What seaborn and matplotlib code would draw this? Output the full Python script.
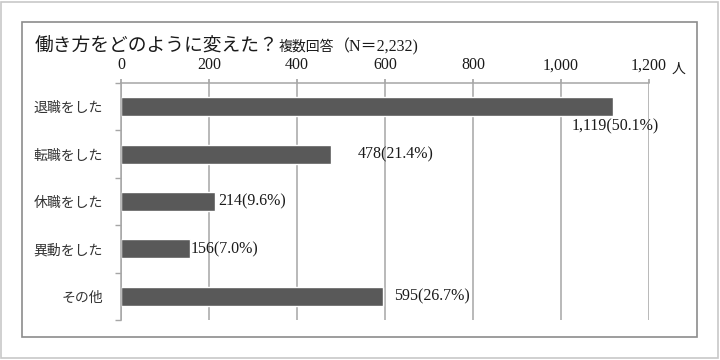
import matplotlib
matplotlib.use("Agg")
import matplotlib.pyplot as plt
import seaborn as sns
import pandas as pd
from matplotlib.patches import Rectangle
from matplotlib.ticker import FuncFormatter, FixedLocator

# chart data
categories = ["退職をした", "転職をした", "休職をした", "異動をした", "その他"]
counts = [1119, 478, 214, 156, 595]
percents = [50.1, 21.4, 9.6, 7.0, 26.7]
x_ticks = [0, 200, 400, 600, 800, 1000, 1200]
title_main = "働き方をどのように変えた？"
title_sub = "複数回答"
title_n = "（N＝2,232)"
unit = "人"

SERIF = ["Liberation Serif", "Noto Sans CJK JP"]
JP = ["Noto Sans CJK JP", "DejaVu Sans"]
BAR = "#595959"
GRID = "#a6a6a6"
INK = "#1a1a1a"

sns.set_theme(style="white")
plt.rcParams["font.family"] = SERIF

df = pd.DataFrame({"category": categories, "count": counts})

fig = plt.figure(figsize=(7.2, 3.6), dpi=100)
fig.patch.set_facecolor("white")

# frames around the picture
fig.patches.append(Rectangle((1 / 720, 2 / 360), 717 / 720, 356 / 360, transform=fig.transFigure,
                             fill=False, edgecolor="#c8c8c8", lw=1.2))
fig.patches.append(Rectangle((22 / 720, 23 / 360), 675 / 720, 315 / 360, transform=fig.transFigure,
                             fill=False, edgecolor="#8c8c8c", lw=1.2))

ax = fig.add_axes([121 / 720, 40 / 360, 528 / 720, 237 / 360])
sns.barplot(data=df, x="count", y="category", orient="h", color=BAR,
            saturation=1, width=0.4, ax=ax)

ax.set_xlim(0, 1200)
ax.set_ylim(4.5, -0.5)
ax.set_xlabel("")
ax.set_ylabel("")

ax.xaxis.tick_top()
ax.xaxis.set_major_locator(FixedLocator(x_ticks))
ax.xaxis.set_major_formatter(FuncFormatter(lambda v, p: f"{int(v):,}"))
ax.tick_params(axis="x", top=True, length=3, color=GRID, pad=4, labelsize=11.5, labelcolor=INK)
ax.grid(axis="x", color=GRID, lw=1.1)
ax.set_axisbelow(True)

ax.yaxis.set_minor_locator(FixedLocator([-0.5, 0.5, 1.5, 2.5, 3.5, 4.5]))
ax.tick_params(axis="y", which="major", length=0, pad=13)
ax.tick_params(axis="y", which="minor", left=True, length=4, color=GRID)
for lab in ax.get_yticklabels():
    lab.set_fontfamily(JP)
    lab.set_fontsize(10)
    lab.set_color("#333333")

for side in ["right", "bottom"]:
    ax.spines[side].set_visible(False)
for side in ["top", "left"]:
    ax.spines[side].set_color(GRID)
    ax.spines[side].set_linewidth(1.1)

# value labels
label_offsets = [(1.5, -14, "center"), (19, 0, "left"), (2, 0, "left"), (1, 0, "left"), (8, 0, "left")]
for i, (c, p) in enumerate(zip(counts, percents)):
    dx, dy, ha = label_offsets[i]
    ax.annotate(f"{c:,}({p:.1f}%)", xy=(c, i), xytext=(dx, dy), textcoords="offset points",
                ha=ha, va="center", fontsize=11.5, color=INK)

ax.annotate(unit, xy=(1200, 1), xycoords=("data", "axes fraction"), xytext=(16, 10),
            textcoords="offset points", ha="left", va="center", fontsize=10, family=JP,
            color=INK)

# title in three pieces sharing one baseline
base_y = 1 - 51 / 360
fig.canvas.draw()
renderer = fig.canvas.get_renderer()
x = 35 / 720
for txt, fam, size in [(title_main, JP, 13.5), (title_sub, JP, 10), (title_n, SERIF, 11.5)]:
    t = fig.text(x, base_y, txt, family=fam, fontsize=size, ha="left", va="baseline", color=INK)
    bb = t.get_window_extent(renderer)
    x = bb.x1 / fig.bbox.width

fig.savefig("out.png", dpi=100, facecolor="white")
